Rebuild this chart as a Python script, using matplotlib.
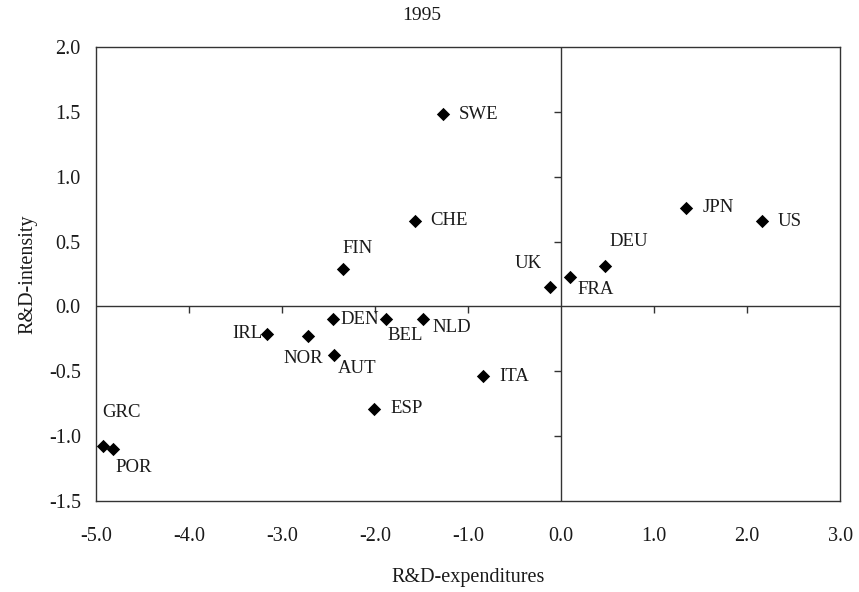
import numpy as np
import matplotlib.pyplot as plt
from matplotlib.lines import TICKDOWN, TICKLEFT

plt.rcParams["font.family"] = ["Liberation Serif", "DejaVu Serif"]

# Dados (1995)
countries = ["SWE", "CHE", "FIN", "DEN", "BEL", "NLD", "JPN", "US", "DEU",
             "FRA", "UK", "IRL", "NOR", "AUT", "ESP", "GRC", "POR", "ITA"]
expenditures = [-1.27, -1.57, -2.35, -2.45, -1.88, -1.48, 1.34, 2.16, 0.47,
                0.10, -0.12, -3.16, -2.72, -2.44, -2.01, -4.93, -4.82, -0.84]
intensity = [1.48, 0.66, 0.29, -0.10, -0.10, -0.10, 0.76, 0.655, 0.315,
             0.23, 0.15, -0.21, -0.23, -0.375, -0.79, -1.075, -1.10, -0.54]

xticks = [-5.0, -4.0, -3.0, -2.0, -1.0, 0.0, 1.0, 2.0, 3.0]
yticks = [-1.5, -1.0, -0.5, 0.0, 0.5, 1.0, 1.5, 2.0]

# posição dos rótulos (offset em pontos, alinhamento horizontal)
label_pos = {
    "SWE": (11.5, 0, "left"), "CHE": (11, 0, "left"), "FIN": (0, 14.5, "left"),
    "DEN": (5, 0, "left"), "BEL": (1, -11.5, "left"), "NLD": (6.5, -6, "left"),
    "JPN": (12, 0, "left"), "US": (11, 0, "left"), "DEU": (3, 17, "left"),
    "FRA": (5, -9.5, "left"), "UK": (-6, 17, "right"), "IRL": (-3.5, 0, "right"),
    "NOR": (-3.5, -16, "center"), "AUT": (3, -9.5, "left"), "ESP": (11.5, 0, "left"),
    "GRC": (0, 24, "left"), "POR": (2, -13.5, "left"), "ITA": (11.5, 0, "left"),
}

ink = "#1a1a1a"
fig = plt.figure(figsize=(8.59, 5.92), dpi=100)
ax = fig.add_axes([0.1118, 0.1537, 0.8662, 0.7669])

# linhas dos eixos em zero
ax.axhline(0, color="#333333", lw=1.0, zorder=1)
ax.axvline(0, color="#333333", lw=1.0, zorder=1)

# marcas de escala sobre as linhas de zero
inner_x = [t for t in xticks[1:-1] if t != 0]
inner_y = [t for t in yticks[1:-1] if t != 0]
ax.plot(inner_x, np.zeros(len(inner_x)), ls="none", marker=TICKDOWN,
        ms=5, mew=1.0, color="#333333", clip_on=False)
ax.plot(np.zeros(len(inner_y)), inner_y, ls="none", marker=TICKLEFT,
        ms=5, mew=1.0, color="#333333", clip_on=False)

ax.scatter(expenditures, intensity, marker="D", s=46, color="black",
           zorder=3, linewidths=0)

for name, x, y in zip(countries, expenditures, intensity):
    dx, dy, ha = label_pos[name]
    ax.annotate(name, (x, y), xytext=(dx, dy), textcoords="offset points",
                ha=ha, va="center", fontsize=13.5, color=ink)

ax.set_xlim(-5, 3)
ax.set_ylim(-1.5, 2.0)
ax.set_xticks(xticks)
ax.set_yticks(yticks)
ax.set_xticklabels([f"{t:.1f}" for t in xticks])
ax.set_yticklabels([f"{t:.1f}" for t in yticks])
ax.tick_params(length=0, labelsize=14.5, colors=ink)
ax.tick_params(axis="x", pad=18.5)
ax.tick_params(axis="y", pad=11)
for s in ax.spines.values():
    s.set_color("#333333")
    s.set_linewidth(1.0)

ax.set_xlabel("R&D-expenditures", fontsize=14.5, color=ink, labelpad=16)
ax.set_ylabel("R&D-intensity", fontsize=14.5, color=ink, labelpad=8)
fig.text(422 / 859, 1 - 15 / 592, "1995", ha="center", va="center",
         fontsize=14, color=ink)

fig.savefig("out.png", dpi=100)
plt.close(fig)
